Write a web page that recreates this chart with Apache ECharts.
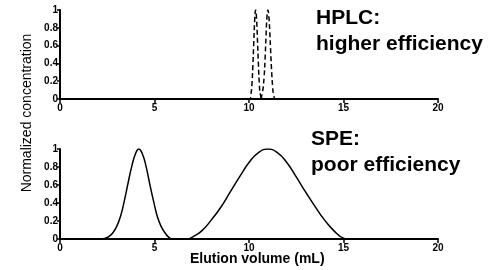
<!DOCTYPE html>
<html>
<head>
<meta charset="utf-8">
<script src="https://cdn.jsdelivr.net/npm/echarts@6/dist/echarts.min.js"></script>
<style>
  html, body { margin: 0; padding: 0; background: #fff; }
  #chart { width: 495px; height: 270px; }
</style>
</head>
<body>
<div id="chart"></div>
<script>
// x tick labels and y tick labels
const xTicks = [0, 5, 10, 15, 20];
const yTicks = [0, 0.2, 0.4, 0.6, 0.8, 1];

// HPLC (top panel), two narrow peaks, dashed
const hplcPeak1 = [
  [9.9, 0], [10.05, 0], [10.1, 0.05], [10.15, 0.15], [10.2, 0.35], [10.25, 0.62],
  [10.3, 0.88], [10.35, 1.0], [10.4, 0.9], [10.45, 0.65], [10.5, 0.38],
  [10.55, 0.16], [10.6, 0.05], [10.7, 0]
];
const hplcPeak2 = [
  [10.6, 0], [10.7, 0.06], [10.8, 0.25], [10.85, 0.45], [10.9, 0.7], [10.95, 0.92],
  [11.0, 1.0], [11.05, 0.93], [11.1, 0.75], [11.15, 0.52], [11.2, 0.3],
  [11.25, 0.14], [11.3, 0.05], [11.4, 0], [11.6, 0]
];

// SPE (bottom panel), two broad peaks, solid
const spePeak1 = [
  [2.0, 0], [2.2, 0], [2.4, 0.01], [2.6, 0.03], [2.8, 0.07], [3.0, 0.14], [3.2, 0.25],
  [3.4, 0.42], [3.6, 0.62], [3.8, 0.81], [4.0, 0.95], [4.17, 1.0], [4.35, 0.95],
  [4.55, 0.81], [4.75, 0.61], [4.95, 0.42], [5.15, 0.25], [5.35, 0.14],
  [5.55, 0.07], [5.75, 0.02], [5.95, 0], [6.8, 0]
];
const spePeak2 = [
  [6.8, 0], [7.0, 0.02], [7.5, 0.09], [8.0, 0.21], [8.5, 0.35], [9.0, 0.52],
  [9.5, 0.69], [10.0, 0.85], [10.5, 0.96], [11.0, 1.0], [11.5, 0.96],
  [12.0, 0.85], [12.5, 0.69], [13.0, 0.52], [13.5, 0.36], [14.0, 0.21],
  [14.5, 0.09], [15.0, 0.01], [15.3, 0], [16.0, 0]
];

const FONT = 'Liberation Sans, Arial, sans-serif';

const xAxisBase = (gi) => ({
  type: 'value', gridIndex: gi, min: 0, max: 20, interval: 5,
  axisLine: { show: true, onZero: false, lineStyle: { color: '#000', width: 2 } },
  axisTick: { show: true, length: 4, lineStyle: { color: '#000', width: 1.5 } },
  axisLabel: { color: '#000', fontSize: 10, fontWeight: 'bold', fontFamily: FONT, margin: 4 },
  splitLine: { show: false }
});
const yAxisBase = (gi) => ({
  type: 'value', gridIndex: gi, min: 0, max: 1, interval: 0.2,
  axisLine: { show: true, lineStyle: { color: '#000', width: 2 } },
  axisTick: { show: true, length: 3, lineStyle: { color: '#000', width: 1.5 } },
  axisLabel: { color: '#000', fontSize: 10, fontWeight: 'bold', fontFamily: FONT, margin: 2,
    formatter: v => String(Math.round(v * 10) / 10) },
  splitLine: { show: false }
});

const lineSeries = (data, gi, dashed) => ({
  type: 'line', xAxisIndex: gi, yAxisIndex: gi, data: data,
  showSymbol: false, smooth: true, animation: false,
  lineStyle: { color: '#000', width: 1.5, type: dashed ? [5, 3] : 'solid' }
});

const bigText = (left, top, text) => ({
  type: 'text', left: left, top: top,
  style: { text: text, font: 'bold 21px ' + FONT, fill: '#000' }
});

let myChart = echarts.init(document.getElementById('chart'), null, { renderer: 'canvas' });
myChart.setOption({
  backgroundColor: '#fff',
  animation: false,
  grid: [
    { left: 60, right: 57, top: 10, height: 89 },
    { left: 60, right: 57, top: 149, height: 90 }
  ],
  xAxis: [xAxisBase(0), xAxisBase(1)],
  yAxis: [yAxisBase(0), yAxisBase(1)],
  series: [
    lineSeries(hplcPeak1, 0, true),
    lineSeries(hplcPeak2, 0, true),
    lineSeries(spePeak1, 1, false),
    lineSeries(spePeak2, 1, false)
  ],
  graphic: [
    bigText(316, 8, 'HPLC:'),
    bigText(316, 34, 'higher efficiency'),
    bigText(311, 129, 'SPE:'),
    bigText(311, 155, 'poor efficiency'),
    {
      type: 'text', left: 190, top: 252,
      style: { text: 'Elution volume (mL)', font: 'bold 14px ' + FONT, fill: '#000' }
    },
    {
      type: 'text', x: 27, y: 113, rotation: Math.PI / 2,
      style: { text: 'Normalized concentration', font: '14px ' + FONT, fill: '#000',
        align: 'center', verticalAlign: 'middle' }
    }
  ]
});
window.addEventListener('resize', () => { myChart.resize(); });
</script>
</body>
</html>
